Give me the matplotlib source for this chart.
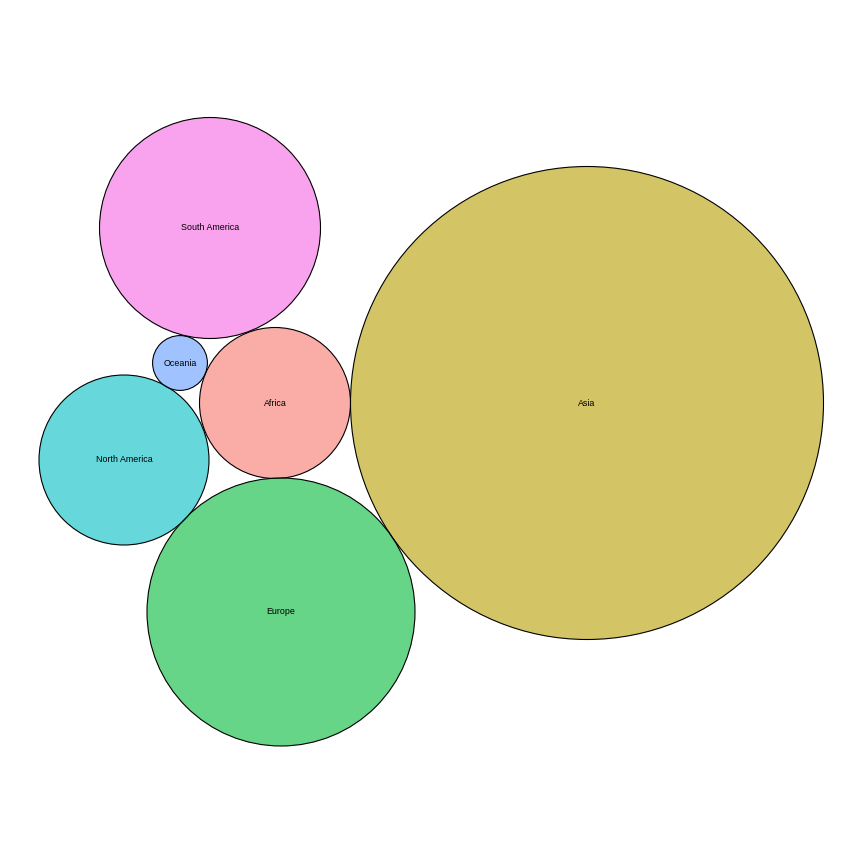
import matplotlib
matplotlib.use("Agg")
import matplotlib.pyplot as plt
from matplotlib.patches import Circle
import numpy as np

continents = ["Africa", "Asia", "Europe", "North America", "Oceania", "South America"]
values = [75.5**2, 236.5**2, 134.0**2, 85.0**2, 27.4**2, 110.5**2]
# packing layout centres
cx = [275, 587, 281, 124, 180, 210]
cy = [403, 403, 612, 460, 363, 228]
colors = ["#F8766D", "#B79F00", "#00BA38", "#00BFC4", "#619CFF", "#F564E3"]

fig = plt.figure(figsize=(8.64, 8.64), dpi=100)
ax = fig.add_axes([0, 0, 1, 1])
ax.set_xlim(0, 864)
ax.set_ylim(864, 0)
ax.set_aspect("equal")
ax.axis("off")

for name, v, x, y, c in zip(continents, values, cx, cy, colors):
    r = np.sqrt(v)
    ax.add_patch(Circle((x, y), r, facecolor=c, alpha=0.6, edgecolor="none"))
    ax.add_patch(Circle((x, y), r, facecolor="none", edgecolor="black", linewidth=0.8))
    ax.text(x, y, name, ha="center", va="center", fontsize=6.4,
            family=["Liberation Sans", "DejaVu Sans"], color="black")

fig.savefig("out.png", dpi=100)
